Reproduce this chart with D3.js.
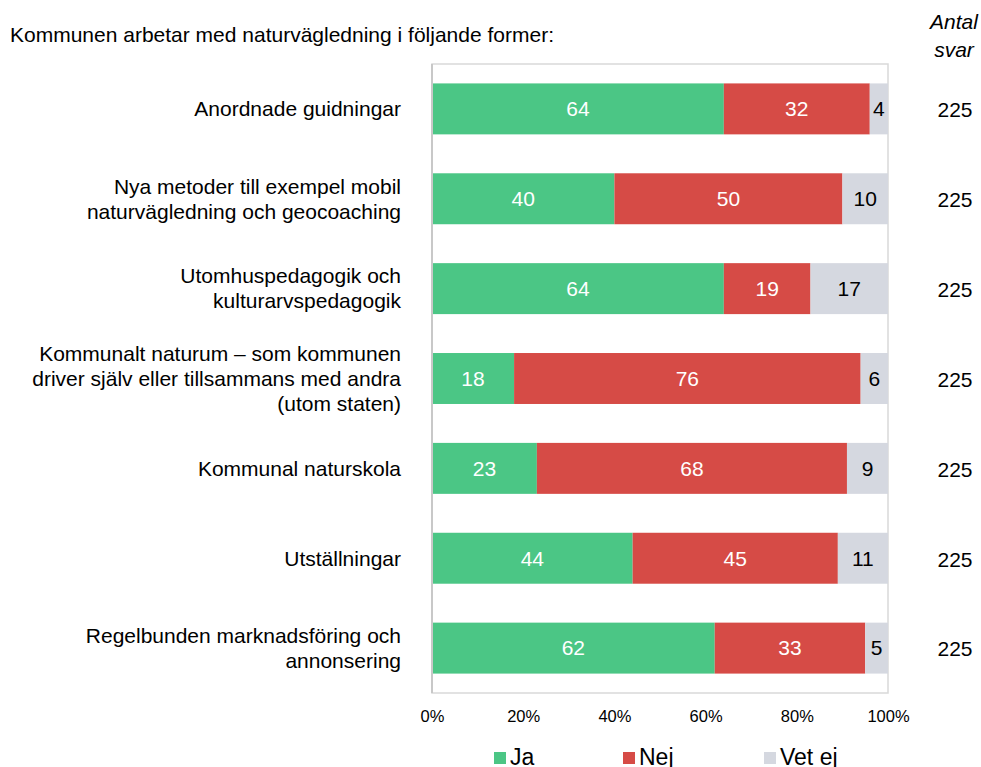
<!DOCTYPE html>
<html>
<head>
<meta charset="utf-8">
<script src="https://cdn.jsdelivr.net/npm/d3@7"></script>
<style>
  body { margin: 0; background: #fff; }
  svg text { font-family: "Liberation Sans", Arial, sans-serif; }
</style>
</head>
<body>
<div id="chart"></div>
<script>
// categories (lines of each label)
var categories = [
    ["Anordnade guidningar"],
    ["Nya metoder till exempel mobil", "naturvägledning och geocoaching"],
    ["Utomhuspedagogik och", "kulturarvspedagogik"],
    ["Kommunalt naturum – som kommunen", "driver själv eller tillsammans med andra", "(utom staten)"],
    ["Kommunal naturskola"],
    ["Utställningar"],
    ["Regelbunden marknadsföring och", "annonsering"]
];
var ja    = [64, 40, 64, 18, 23, 44, 62];
var nej   = [32, 50, 19, 76, 68, 45, 33];
var vetej = [4, 10, 17, 6, 9, 11, 5];
var antal = [225, 225, 225, 225, 225, 225, 225];
var seriesNames = ["Ja", "Nej", "Vet ej"];
var seriesColors = ["#4bc685", "#d64b46", "#d5d8e0"];
var tickValues = [0, 20, 40, 60, 80, 100];

var width = 981, height = 767;
var margin = {left: 432, right: 93, top: 64, bottom: 74};
var fs = 21;

var svg = d3.select("#chart").append("svg")
    .attr("width", width)
    .attr("height", height);

var xScale = d3.scaleLinear()
    .domain([0, 100])
    .range([margin.left, width - margin.right]);

var yScale = d3.scaleBand()
    .domain(d3.range(categories.length))
    .range([margin.top, height - margin.bottom])
    .paddingInner(0.433)
    .paddingOuter(0.216);

// build stacked data
var rows = categories.map(function(c, i) {
    return {i: i, Ja: ja[i], Nej: nej[i], "Vet ej": vetej[i]};
});
var stack = d3.stack().keys(seriesNames)(rows);

// frame
svg.append("rect")
    .attr("x", margin.left)
    .attr("y", margin.top)
    .attr("width", xScale(100) - xScale(0))
    .attr("height", height - margin.bottom - margin.top)
    .attr("fill", "none")
    .attr("stroke", "#d9d9d9")
    .attr("stroke-width", 1.5);

// bars
stack.forEach(function(layer, k) {
    var g = svg.append("g");
    g.selectAll("rect")
        .data(layer)
        .enter().append("rect")
        .attr("x", function(d) { return xScale(d[0]); })
        .attr("y", function(d, i) { return yScale(i); })
        .attr("width", function(d) { return xScale(d[1]) - xScale(d[0]); })
        .attr("height", yScale.bandwidth())
        .attr("fill", seriesColors[k]);

    g.selectAll("text")
        .data(layer)
        .enter().append("text")
        .attr("x", function(d) { return (xScale(d[0]) + xScale(d[1])) / 2; })
        .attr("y", function(d, i) { return yScale(i) + yScale.bandwidth() / 2; })
        .attr("dy", "0.35em")
        .attr("text-anchor", "middle")
        .attr("font-size", fs + "px")
        .attr("fill", k == 2 ? "#000" : "#fff")
        .text(function(d) { return d[1] - d[0]; });
});

// left axis line
svg.append("line")
    .attr("x1", margin.left).attr("x2", margin.left)
    .attr("y1", margin.top).attr("y2", height - margin.bottom)
    .attr("stroke", "#c8c8c8")
    .attr("stroke-width", 2);

// x axis tick labels
var xAxis = d3.axisBottom(xScale)
    .tickValues(tickValues)
    .tickSize(0)
    .tickFormat(function(d) { return d + "%"; });
var xg = svg.append("g")
    .attr("transform", "translate(0," + (height - margin.bottom) + ")")
    .call(xAxis);
xg.select(".domain").remove();
xg.selectAll("text")
    .attr("font-size", "16.5px")
    .attr("fill", "#000")
    .attr("dy", "0.35em")
    .attr("y", 23);

// category labels
var lineH = 25;
categories.forEach(function(lines, i) {
    var cy = yScale(i) + yScale.bandwidth() / 2;
    var t = svg.append("text")
        .attr("text-anchor", "end")
        .attr("font-size", fs + "px")
        .attr("fill", "#000");
    lines.forEach(function(l, j) {
        t.append("tspan")
            .attr("x", 401)
            .attr("y", cy + (j - (lines.length - 1) / 2) * lineH)
            .attr("dy", "0.35em")
            .text(l);
    });
});

// antal svar
svg.selectAll(".antal")
    .data(antal)
    .enter().append("text")
    .attr("class", "antal")
    .attr("x", 955)
    .attr("y", function(d, i) { return yScale(i) + yScale.bandwidth() / 2 + 1; })
    .attr("dy", "0.35em")
    .attr("text-anchor", "middle")
    .attr("font-size", fs + "px")
    .text(function(d) { return d; });

svg.append("text")
    .attr("x", 954).attr("y", 22).attr("dy", "0.35em")
    .attr("text-anchor", "middle")
    .attr("font-size", fs + "px")
    .attr("font-style", "italic")
    .text("Antal");
svg.append("text")
    .attr("x", 954).attr("y", 50).attr("dy", "0.35em")
    .attr("text-anchor", "middle")
    .attr("font-size", fs + "px")
    .attr("font-style", "italic")
    .text("svar");

// title
svg.append("text")
    .attr("x", 10).attr("y", 35).attr("dy", "0.35em")
    .attr("font-size", fs + "px")
    .text("Kommunen arbetar med naturvägledning i följande former:");

// legend
var legendX = [494, 623, 764];
seriesNames.forEach(function(n, k) {
    svg.append("rect")
        .attr("x", legendX[k]).attr("y", 752)
        .attr("width", 12).attr("height", 12)
        .attr("fill", seriesColors[k]);
    svg.append("text")
        .attr("x", legendX[k] + 16).attr("y", 765)
        .attr("font-size", "23px")
        .text(n);
});
</script>
</body>
</html>
